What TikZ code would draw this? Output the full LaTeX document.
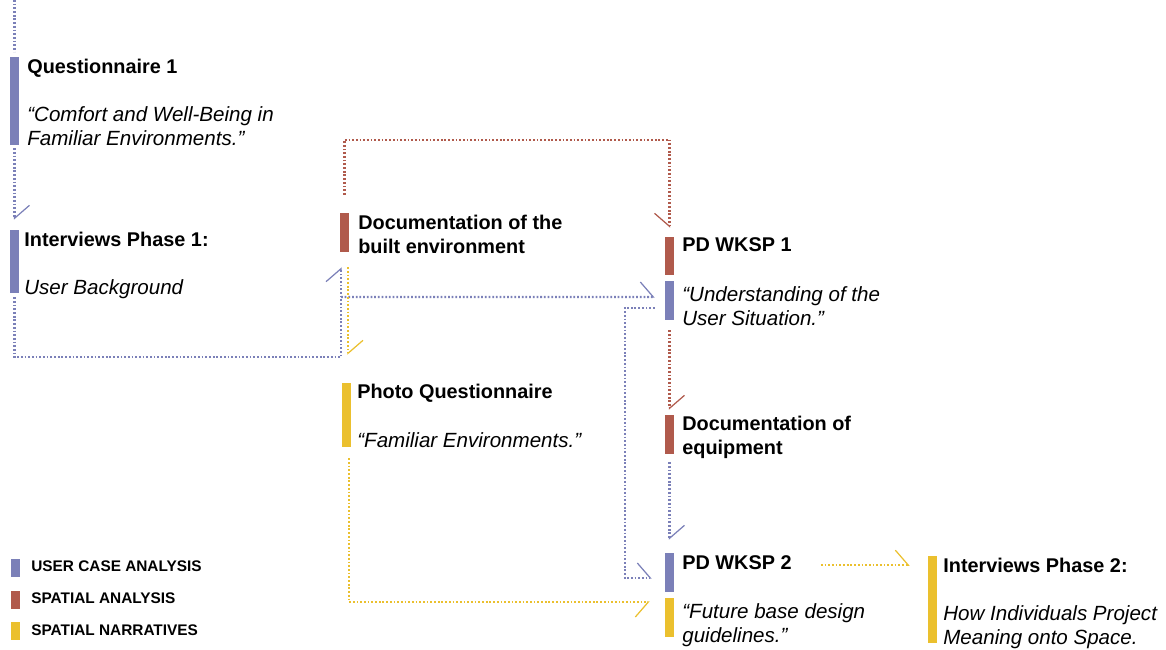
\documentclass[tikz,border=0pt]{standalone}
\usepackage{fontspec}
\setmainfont{Liberation Sans}
\usetikzlibrary{arrows.meta,
                positioning
            }

\definecolor{ucase}{HTML}{7B80B8}
\definecolor{spatial}{HTML}{B05A4C}
\definecolor{narrative}{HTML}{EBC02E}

\tikzset{
    tagbar/.style={fill=#1, inner sep=0pt, minimum width=0.18cm},
    headtext/.style={font=\fontsize{11.3}{13.65}\selectfont\bfseries, inner sep=0pt, anchor=base west},
    quotetext/.style={font=\fontsize{11.7}{13.65}\selectfont\itshape, inner sep=0pt, anchor=north west, align=left},
    keytext/.style={font=\fontsize{8.75}{10}\selectfont\bfseries, inner sep=0pt, anchor=base west},
    flow/.style={draw=#1, line width=1.2pt, dash pattern=on 1pt off 1.1pt},
    tipl/.style={-{Straight Barb[left, length=0.26cm, width=0.6cm, line width=0.7pt]}},
    tipr/.style={-{Straight Barb[right, length=0.26cm, width=0.6cm, line width=0.7pt]}}
}

\begin{document}
\begin{tikzpicture}[x=0.02cm, y=-0.02cm]
            \useasboundingbox (0,0) rectangle (1166,649);

            % colour tags
            \node[tagbar=ucase, minimum height=1.76cm] (q1bar) at (14.5,101) {};
            \node[tagbar=ucase, minimum height=1.26cm] (ip1bar) at (14.5,261.5) {};
            \node[tagbar=spatial, minimum height=0.78cm] (docbar) at (344.5,232.5) {};
            \node[tagbar=spatial, minimum height=0.76cm] (pd1bar) at (669.5,256) {};
            \node[tagbar=ucase, minimum height=0.78cm] (usbar) at (669.5,300.5) {};
            \node[tagbar=narrative, minimum height=1.28cm] (pqbar) at (346.5,415) {};
            \node[tagbar=spatial, minimum height=0.78cm] (eqbar) at (669.5,434.5) {};
            \node[tagbar=ucase, minimum height=0.78cm] (pd2bar) at (669.5,572.5) {};
            \node[tagbar=narrative, minimum height=0.78cm] (fbbar) at (669.5,617.5) {};
            \node[tagbar=narrative, minimum height=1.74cm] (ip2bar) at (932.5,599.5) {};

            % texts
            \node[headtext] (q1) at (27,73) {Questionnaire 1};
            \node[quotetext] (q1q) at (27,106.5) {“Comfort and Well-Being in\\Familiar Environments.”};
            \node[headtext] (ip1) at (24,246) {Interviews Phase 1:};
            \node[quotetext] (ip1q) at (24,279.5) {User Background};
            \node[quotetext, font=\fontsize{11.3}{13.65}\selectfont\bfseries] (doc) at (358,214.5) {Documentation of the\\built environment};
            \node[headtext] (pd1) at (682,251) {PD WKSP 1};
            \node[quotetext] (us) at (682,286.5) {“Understanding of the\\User Situation.”};
            \node[headtext] (pq) at (357,398) {Photo Questionnaire};
            \node[quotetext] (pqq) at (357,432.5) {“Familiar Environments.”};
            \node[quotetext, font=\fontsize{11.3}{13.65}\selectfont\bfseries] (eq) at (682,415.5) {Documentation of\\equipment};
            \node[headtext] (pd2) at (682,569) {PD WKSP 2};
            \node[quotetext] (fb) at (682,603.5) {“Future base design\\guidelines.”};
            \node[headtext] (ip2) at (943,572) {Interviews Phase 2:};
            \node[quotetext] (ip2q) at (943,605.5) {How Individuals Project\\Meaning onto Space.};

            % key
            \node[tagbar=ucase, minimum height=0.36cm] (k1bar) at (15.5,568) {};
            \node[tagbar=spatial, minimum height=0.36cm] (k2bar) at (15.5,600) {};
            \node[tagbar=narrative, minimum height=0.36cm] (k3bar) at (15.5,631) {};
            \node[keytext] (k1) at (31,571) {USER CASE ANALYSIS};
            \node[keytext] (k2) at (31,603) {SPATIAL ANALYSIS};
            \node[keytext] (k3) at (31,635) {SPATIAL NARRATIVES};

            % flows
            \coordinate (start) at (14.5,0);
            \coordinate (fork) at (341,297);
            \coordinate (pd2out) at ([yshift=-0.06cm]pd2.east);
            \draw[flow=ucase] (start) -- ([yshift=0.1cm]q1bar.north);
            \draw[flow=ucase, tipl, shorten <=0.06cm, shorten >=0.2cm] (q1bar.south) -- (ip1bar.north);
            \draw[flow=spatial, tipr, shorten <=0.36cm, shorten >=0.18cm] (docbar.north) -- ++(0,-73) -| (pd1bar.north);
            \draw[flow=ucase, tipl, shorten <=0.08cm, shorten >=0.3cm] (ip1bar.south) -- ++(0,64) -| ([xshift=-0.07cm]docbar.south);
            \draw[flow=ucase, tipl, shorten >=0.2cm] (fork) -- ([yshift=0.07cm]usbar.west);
            \draw[flow=narrative, tipl, shorten <=0.3cm, shorten >=0.56cm] ([xshift=0.07cm]docbar.south) -- ([xshift=0.07cm]docbar.south |- pqbar.north);
            \draw[flow=spatial, tipl, shorten <=0.2cm, shorten >=0.1cm] (usbar.south) -- (eqbar.north);
            \draw[flow=ucase, tipl, shorten <=0.16cm, shorten >=0.26cm] (eqbar.south) -- (pd2bar.north);
            \draw[flow=ucase, tipl, shorten <=0.2cm, shorten >=0.26cm] ([yshift=-0.15cm]usbar.west) -- ++(-40,0) |- ([yshift=-0.11cm]pd2bar.west);
            \draw[flow=narrative, tipr, shorten <=0.22cm, shorten >=0.3cm] ([xshift=0.05cm]pqbar.south) |- ([yshift=0.31cm]fbbar.west);
            \draw[flow=narrative, tipl, shorten <=0.58cm, shorten >=0.36cm] (pd2out) -- (ip2bar.west |- pd2out);
        \end{tikzpicture}
\end{document}
